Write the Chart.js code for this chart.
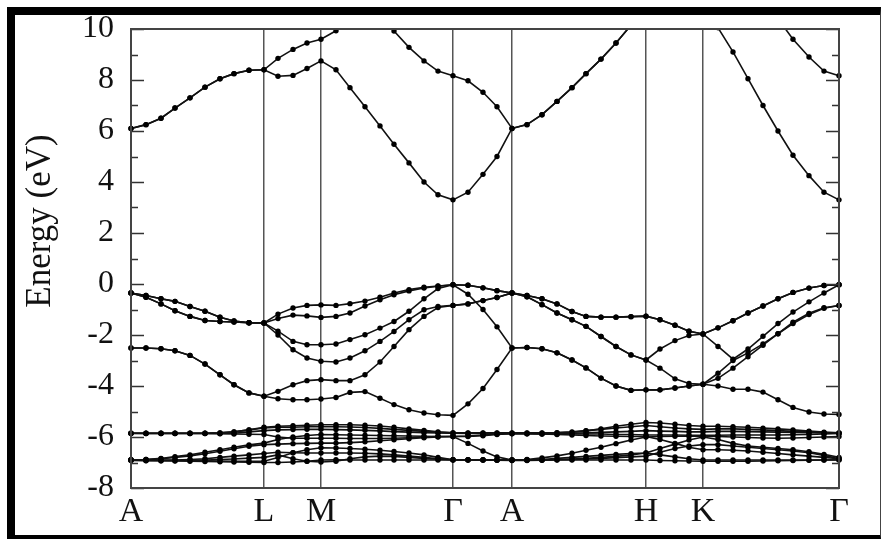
<!DOCTYPE html>
<html>
<head>
<meta charset="utf-8">
<script src="https://cdn.jsdelivr.net/npm/chart.js@4.4.1/dist/chart.umd.min.js"></script>
<style>
  html, body { margin: 0; padding: 0; background: #fff; }
  #wrap { position: relative; width: 885px; height: 539px; }
  #frame {
    position: absolute; left: 7px; top: 7px; width: 874px; height: 532px;
    box-sizing: border-box; border: solid #000; border-width: 8px 1px 4px 8px;
    border-right-color: #444; pointer-events: none;
  }
</style>
</head>
<body>
<div id="wrap">
  <canvas id="bands" width="885" height="539"></canvas>
  <div id="frame"></div>
</div>
<script>
// k-path positions (A-L-M-Γ-A-H-K-Γ), one entry per sampled k-point
const kPath = [0, 15, 30, 44, 59, 74, 89, 103, 118, 133,
  147, 162, 176, 190,
  205, 219, 234, 249, 263, 278, 293, 307, 322,
  337, 352, 366, 381,
  396, 411, 426, 441, 455, 470, 485, 500, 515,
  529, 544, 558, 572,
  587, 602, 617, 632, 647, 662, 678, 693, 708];
const kTickPos = [0, 133, 190, 322, 381, 515, 572, 708];
const kTickLabels = ["A", "L", "M", "Γ", "A", "H", "K", "Γ"];
const yTickValues = [-8, -6, -4, -2, 0, 2, 4, 6, 8, 10];
const yTitle = "Energy (eV)";

// conduction bands
const cond1 = [6.1, 6.25, 6.5, 6.9, 7.3, 7.72, 8.05, 8.25, 8.38, 8.4,
  8.15, 8.18, 8.45, 8.75,
  8.4, 7.7, 6.95, 6.2, 5.48, 4.75, 4.0, 3.5, 3.3,
  3.6, 4.3, 5.0, 6.1,
  6.25, 6.64, 7.16, 7.7, 8.25, 8.82, 9.45, 10.15, 10.8,
  11.3, 11.6, 11.5, 11.1,
  10.05, 9.1, 8.05, 7.0, 6.0, 5.05, 4.25, 3.6, 3.3];
const cond2 = [6.1, 6.25, 6.5, 6.9, 7.3, 7.72, 8.05, 8.25, 8.38, 8.4,
  8.85, 9.2, 9.45, 9.6,
  9.93, 10.4, 10.7, 10.6, 9.92, 9.28, 8.75, 8.35, 8.17,
  7.97, 7.52, 6.95, 6.1,
  6.25, 6.64, 7.16, 7.7, 8.25, 8.82, 9.45, 10.15, 10.8,
  11.5, 12.2, 12.8, 13.3,
  12.8, 12.2, 11.6, 11.0, 10.4, 9.6, 8.9, 8.35, 8.17];

// valence p bands
const val1 = [-0.35, -0.45, -0.58, -0.68, -0.88, -1.07, -1.3, -1.45, -1.52, -1.53,
  -1.18, -0.94, -0.84, -0.82,
  -0.84, -0.77, -0.67, -0.52, -0.35, -0.22, -0.13, -0.08, -0.03,
  -0.05, -0.15, -0.26, -0.35,
  -0.45, -0.58, -0.78, -1.08, -1.27, -1.3, -1.3, -1.28, -1.26,
  -1.4, -1.62, -1.85, -1.96,
  -1.72, -1.44, -1.14, -0.86, -0.58, -0.33, -0.16, -0.06, -0.03];
const val2 = [-0.35, -0.45, -0.58, -0.68, -0.88, -1.07, -1.3, -1.45, -1.52, -1.53,
  -1.35, -1.22, -1.25, -1.31,
  -1.27, -1.14, -0.86, -0.62, -0.42, -0.27, -0.16, -0.09, -0.03,
  -0.05, -0.15, -0.26, -0.35,
  -0.5, -0.81, -1.14, -1.4, -1.66, -2.06, -2.45, -2.78, -2.98,
  -2.55, -2.22, -2.02, -1.96,
  -2.45, -2.95, -2.55, -2.05, -1.55, -1.1, -0.7, -0.35, -0.03];
const val3 = [-0.35, -0.52, -0.78, -1.05, -1.27, -1.43, -1.47, -1.49, -1.52, -1.53,
  -1.85, -2.25, -2.38, -2.38,
  -2.35, -2.18, -1.99, -1.73, -1.47, -1.07, -0.58, -0.18, -0.03,
  -0.4, -1.0, -1.68, -2.51,
  -2.49, -2.54, -2.7, -2.98, -3.29, -3.69, -4.0, -4.17, -4.15,
  -4.15, -4.08, -4.0, -3.93,
  -4.0, -4.13, -4.13, -4.24, -4.54, -4.84, -5.02, -5.1, -5.12];
const val4 = [-0.35, -0.52, -0.78, -1.05, -1.27, -1.43, -1.47, -1.49, -1.52, -1.53,
  -2.0, -2.58, -2.9, -3.03,
  -3.06, -2.9, -2.62, -2.25, -1.86, -1.4, -1.01, -0.88, -0.84,
  -0.78, -0.65, -0.53, -0.35,
  -0.5, -0.81, -1.14, -1.4, -1.66, -2.06, -2.45, -2.78, -2.98,
  -3.3, -3.72, -3.9, -3.93,
  -3.7, -3.3, -2.85, -2.4, -1.95, -1.5, -1.15, -0.93, -0.84];
const val5 = [-2.51, -2.51, -2.54, -2.62, -2.8, -3.14, -3.56, -3.95, -4.27, -4.4,
  -4.21, -3.95, -3.79, -3.75,
  -3.79, -3.79, -3.56, -3.06, -2.45, -1.79, -1.27, -0.92, -0.84,
  -0.78, -0.65, -0.53, -0.35,
  -0.45, -0.58, -0.78, -1.08, -1.27, -1.3, -1.3, -1.28, -1.26,
  -1.4, -1.62, -1.85, -1.96,
  -1.72, -1.44, -1.14, -0.86, -0.58, -0.33, -0.16, -0.06, -0.03];
const val6 = [-2.51, -2.51, -2.54, -2.62, -2.8, -3.14, -3.56, -3.95, -4.27, -4.4,
  -4.5, -4.54, -4.54, -4.51,
  -4.45, -4.25, -4.22, -4.48, -4.73, -4.93, -5.06, -5.13, -5.15,
  -4.7, -4.1, -3.35, -2.51,
  -2.49, -2.54, -2.7, -2.98, -3.29, -3.69, -4.0, -4.17, -4.15,
  -4.15, -4.08, -4.0, -3.93,
  -3.5, -3.0, -2.7, -2.35, -1.95, -1.55, -1.2, -0.95, -0.84];

// d bands
const dBand1 = [-5.85, -5.85, -5.85, -5.85, -5.85, -5.85, -5.84, -5.8, -5.72, -5.62,
  -5.58, -5.56, -5.54, -5.52,
  -5.52, -5.52, -5.54, -5.57, -5.62, -5.68, -5.74, -5.8, -5.84,
  -5.85, -5.85, -5.85, -5.85,
  -5.85, -5.85, -5.84, -5.82, -5.76, -5.68, -5.58, -5.5, -5.43,
  -5.45, -5.5, -5.55, -5.58,
  -5.58, -5.6, -5.62, -5.65, -5.68, -5.72, -5.77, -5.81, -5.84];
const dBand2 = [-5.85, -5.86, -5.86, -5.86, -5.86, -5.86, -5.86, -5.85, -5.8, -5.75,
  -5.72, -5.71, -5.7, -5.7,
  -5.71, -5.72, -5.74, -5.76, -5.79, -5.81, -5.83, -5.84, -5.85,
  -5.86, -5.86, -5.86, -5.86,
  -5.86, -5.86, -5.86, -5.85, -5.84, -5.82, -5.8, -5.78, -5.75,
  -5.77, -5.78, -5.8, -5.8,
  -5.78, -5.78, -5.79, -5.8, -5.81, -5.82, -5.83, -5.84, -5.85];
const dBand3 = [-6.89, -6.88, -6.84, -6.77, -6.7, -6.6, -6.5, -6.4, -6.31, -6.24,
  -6.1, -6.0, -5.94, -5.9,
  -5.91, -5.92, -5.93, -5.94, -5.95, -5.96, -5.97, -5.98, -5.98,
  -6.25, -6.55, -6.78, -6.9,
  -6.88, -6.82, -6.74, -6.64, -6.52, -6.4, -6.26, -6.12, -6.0,
  -5.98, -5.97, -5.97, -5.97,
  -5.98, -6.0, -6.02, -6.04, -6.05, -6.04, -6.02, -6.0, -5.98];
const dBand4 = [-6.9, -6.9, -6.91, -6.92, -6.92, -6.93, -6.94, -6.95, -6.95, -6.95,
  -6.8, -6.62, -6.5, -6.42,
  -6.43, -6.45, -6.48, -6.52, -6.57, -6.63, -6.7, -6.8, -6.89,
  -6.89, -6.9, -6.9, -6.9,
  -6.9, -6.88, -6.84, -6.8, -6.76, -6.72, -6.68, -6.65, -6.63,
  -6.45, -6.28, -6.12, -6.0,
  -6.1, -6.25, -6.35, -6.4, -6.45, -6.5, -6.58, -6.68, -6.8];
const dBand5 = [-6.9, -6.92, -6.93, -6.94, -6.95, -6.96, -6.97, -6.98, -6.99, -7.0,
  -7.0, -6.98, -6.95, -6.9,
  -6.89, -6.9, -6.9, -6.9, -6.9, -6.9, -6.9, -6.9, -6.9,
  -6.9, -6.9, -6.91, -6.92,
  -6.92, -6.91, -6.9, -6.9, -6.9, -6.9, -6.9, -6.9, -6.9,
  -6.92, -6.93, -6.94, -6.95,
  -6.95, -6.95, -6.95, -6.94, -6.93, -6.92, -6.91, -6.9, -6.9];
const dBand6 = [-6.9, -6.9, -6.9, -6.9, -6.88, -6.85, -6.8, -6.75, -6.7, -6.65,
  -6.6, -6.62, -6.63, -6.63,
  -6.63, -6.63, -6.64, -6.66, -6.7, -6.75, -6.8, -6.85, -6.89,
  -6.9, -6.9, -6.9, -6.9,
  -6.9, -6.9, -6.88, -6.86, -6.84, -6.8, -6.76, -6.7, -6.63,
  -6.7, -6.78, -6.85, -6.9,
  -6.9, -6.9, -6.9, -6.9, -6.9, -6.9, -6.9, -6.9, -6.89];
const dBand7 = [-6.89, -6.88, -6.85, -6.8, -6.74, -6.66, -6.56, -6.46, -6.36, -6.3,
  -6.28, -6.26, -6.25, -6.24,
  -6.24, -6.22, -6.19, -6.15, -6.11, -6.07, -6.03, -6.0, -5.98,
  -5.96, -5.92, -5.88, -5.86,
  -5.87, -5.88, -5.9, -5.92, -5.94, -5.96, -5.97, -5.98, -5.98,
  -6.1, -6.25, -6.4, -6.5,
  -6.5, -6.52, -6.55, -6.6, -6.65, -6.7, -6.75, -6.8, -6.85];
const dBand8 = [-5.85, -5.85, -5.85, -5.85, -5.85, -5.85, -5.84, -5.8, -5.72, -5.65,
  -5.62, -5.62, -5.6, -5.6,
  -5.6, -5.61, -5.63, -5.66, -5.7, -5.74, -5.78, -5.82, -5.84,
  -5.84, -5.84, -5.84, -5.84,
  -5.84, -5.84, -5.83, -5.8, -5.75, -5.7, -5.65, -5.6, -5.55,
  -5.6, -5.65, -5.68, -5.7,
  -5.68, -5.68, -5.7, -5.72, -5.75, -5.78, -5.8, -5.83, -5.84];
const dBand9 = [-6.92, -6.93, -6.93, -6.92, -6.91, -6.9, -6.88, -6.86, -6.83, -6.8,
  -6.7, -6.85, -6.95, -6.98,
  -6.95, -6.85, -6.78, -6.75, -6.76, -6.8, -6.84, -6.87, -6.89,
  -6.89, -6.89, -6.9, -6.9,
  -6.9, -6.9, -6.89, -6.88, -6.86, -6.84, -6.81, -6.78, -6.75,
  -6.6, -6.45, -6.35, -6.3,
  -6.3, -6.35, -6.4, -6.45, -6.5, -6.55, -6.62, -6.72, -6.85];
const dBand10 = [-5.86, -5.86, -5.86, -5.86, -5.86, -5.86, -5.87, -5.88, -5.89, -5.9,
  -6.0, -6.05, -6.05, -6.05,
  -6.05, -6.06, -6.06, -6.06, -6.05, -6.03, -6.0, -5.98, -5.98,
  -5.98, -5.95, -5.9, -5.87,
  -5.87, -5.88, -5.88, -5.88, -5.88, -5.88, -5.9, -5.9, -5.92,
  -5.92, -5.92, -5.93, -5.93,
  -5.93, -5.92, -5.92, -5.92, -5.92, -5.91, -5.9, -5.88, -5.86];

const allBands = [cond1, cond2, val1, val2, val3, val4, val5, val6,
  dBand1, dBand2, dBand3, dBand4, dBand5, dBand6, dBand7, dBand8, dBand9, dBand10];

const serif = "'Liberation Serif', 'Times New Roman', serif";

// frame of the plot, inner tick marks and the rotated axis title
const bandDecor = {
  id: 'bandDecor',
  afterDatasetsDraw(chart) {
    const { ctx, chartArea: a, scales } = chart;
    const y = scales.y;
    ctx.save();
    ctx.strokeStyle = '#333';
    ctx.lineWidth = 1.5;
    ctx.beginPath();
    for (let v = -8; v <= 10; v++) {
      const py = Math.round(y.getPixelForValue(v)) + 0.5;
      const len = v % 2 === 0 ? 13 : 7;
      ctx.moveTo(a.left, py); ctx.lineTo(a.left + len, py);
      ctx.moveTo(a.right, py); ctx.lineTo(a.right - len, py);
    }
    ctx.stroke();
    ctx.strokeStyle = '#444';
    ctx.lineWidth = 2;
    ctx.strokeRect(a.left, a.top, a.right - a.left, a.bottom - a.top);
    ctx.restore();
  },
  afterDraw(chart) {
    const ctx = chart.ctx;
    ctx.save();
    ctx.translate(50, 221);
    ctx.rotate(-Math.PI / 2);
    ctx.font = "35px " + serif;
    ctx.fillStyle = '#111';
    ctx.textAlign = 'center';
    ctx.textBaseline = 'alphabetic';
    ctx.fillText(yTitle, 0, 0);
    ctx.restore();
  }
};

const ctx = document.getElementById('bands').getContext('2d');
new Chart(ctx, {
  type: 'line',
  data: {
    datasets: allBands.map(band => ({
      data: kPath.map((k, i) => ({ x: k, y: band[i] })),
      borderColor: '#111',
      borderWidth: 1.6,
      pointRadius: 2.7,
      pointBackgroundColor: '#000',
      pointBorderWidth: 0,
      tension: 0,
      clip: { left: 4, right: 4, top: 0, bottom: 4 }
    }))
  },
  options: {
    responsive: false,
    devicePixelRatio: 1,
    animation: false,
    events: [],
    layout: { padding: { left: 0, top: 29, right: 46, bottom: 0 } },
    plugins: {
      legend: { display: false },
      tooltip: { enabled: false }
    },
    scales: {
      x: {
        type: 'linear',
        min: 0,
        max: 708,
        afterBuildTicks: scale => { scale.ticks = kTickPos.map(v => ({ value: v })); },
        afterFit: scale => { scale.height = 51; },
        grid: { color: '#555', lineWidth: 1.5, drawTicks: false },
        border: { display: false },
        ticks: {
          autoSkip: false,
          maxRotation: 0,
          padding: 4,
          color: '#111',
          font: { family: serif, size: 34 },
          callback: (v, i) => kTickLabels[i]
        }
      },
      y: {
        min: -8,
        max: 10,
        afterBuildTicks: scale => { scale.ticks = yTickValues.map(v => ({ value: v })); },
        afterFit: scale => {
          scale.width = 131;
          scale.paddingTop = 0;
          scale.paddingBottom = 0;
        },
        grid: { display: false, drawTicks: false },
        border: { display: false },
        ticks: {
          padding: 17,
          color: '#111',
          font: { family: serif, size: 32 },
          callback: v => String(v)
        }
      }
    }
  },
  plugins: [bandDecor]
});
</script>
</body>
</html>
